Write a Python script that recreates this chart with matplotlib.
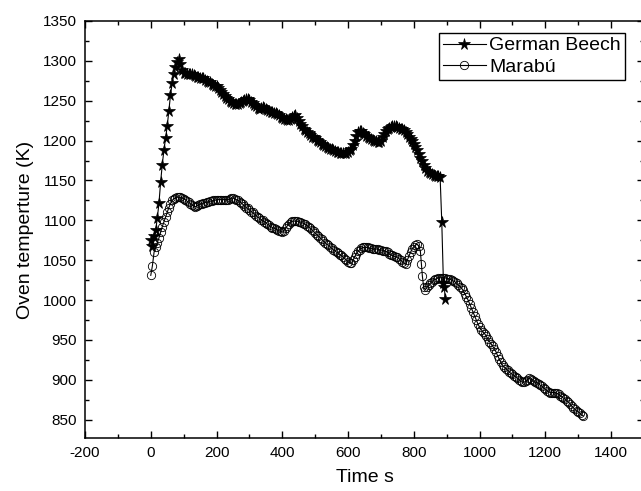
import matplotlib
matplotlib.use("Agg")
import matplotlib.pyplot as plt
from matplotlib.ticker import MultipleLocator

plt.rcParams['font.family'] = ['Liberation Sans', 'DejaVu Sans']
plt.rcParams['axes.unicode_minus'] = False

# German Beech: time (s), oven temperature (K)
beech_t = [0, 5, 10, 15, 20, 25, 30, 35, 40, 45, 50, 55, 60, 65, 70, 75, 80, 85, 90, 95,
           100, 105, 110, 115, 120, 125, 130, 135, 140, 145, 150, 155, 160, 165, 170, 175,
           180, 185, 190, 195, 200, 205, 210, 215, 220, 225, 230, 235, 240, 245, 250, 255,
           260, 265, 270, 275, 280, 285, 290, 295, 300, 305, 310, 315, 320, 325, 330, 335,
           340, 345, 350, 355, 360, 365, 370, 375, 380, 385, 390, 395, 400, 405, 410, 415,
           420, 425, 430, 435, 440, 445, 450, 455, 460, 465, 470, 475, 480, 485, 490, 495,
           500, 505, 510, 515, 520, 525, 530, 535, 540, 545, 550, 555, 560, 565, 570, 575,
           580, 585, 590, 595, 600, 605, 610, 615, 620, 625, 630, 635, 640, 645, 650, 655,
           660, 665, 670, 675, 680, 685, 690, 695, 700, 705, 710, 715, 720, 725, 730, 735,
           740, 745, 750, 755, 760, 765, 770, 775, 780, 785, 790, 795, 800, 805, 810, 815,
           820, 825, 830, 835, 840, 845, 850, 855, 860, 865, 870, 875, 880,
           885, 890, 893, 895]
beech_T = [1075, 1068, 1080, 1088, 1103, 1122, 1148, 1170, 1188, 1203, 1218, 1237, 1257, 1272,
           1283, 1292, 1298, 1302, 1296, 1288,
           1285, 1285, 1284, 1284, 1284, 1283, 1282, 1281, 1280, 1280, 1279, 1279, 1278, 1276,
           1275, 1274, 1273, 1271, 1270, 1269, 1268, 1266, 1264, 1261, 1258, 1256, 1254, 1252,
           1250, 1248, 1247, 1246, 1246, 1246, 1247, 1248, 1250, 1251, 1252, 1252, 1251, 1249,
           1247, 1245, 1243, 1241, 1240, 1241, 1242, 1241, 1240, 1238, 1237, 1236, 1236, 1235,
           1235, 1233, 1232, 1230, 1228, 1227, 1227, 1226, 1226, 1227, 1229, 1231, 1232, 1228,
           1224, 1221, 1218, 1215, 1213, 1211, 1209, 1207, 1205, 1204, 1203, 1201, 1200, 1198,
           1196, 1194, 1193, 1192, 1191, 1190, 1189, 1188, 1187, 1186, 1186, 1185, 1184, 1184,
           1184, 1185, 1186, 1188, 1190, 1195, 1200, 1206, 1211, 1212, 1212, 1210, 1208, 1206,
           1205, 1203, 1202, 1201, 1200, 1199, 1198, 1198, 1200, 1204, 1208, 1212, 1215, 1216,
           1217, 1218, 1218, 1218, 1217, 1216, 1215, 1214, 1213, 1211, 1208, 1205, 1202, 1199,
           1196, 1192, 1188, 1183, 1178, 1174, 1170, 1166, 1162, 1160, 1159, 1158, 1157, 1156,
           1156, 1155, 1154,
           1098, 1022, 1017, 1001]

# Marabú: time (s), oven temperature (K)
marabu_t = [0, 5, 10, 15, 20, 25, 30, 35, 40, 45, 50, 55, 60, 65, 70, 75,
            80, 85, 90, 95, 100, 105, 110, 115, 120, 125, 130, 135, 140, 145, 150, 155,
            160, 165, 170, 175, 180, 185, 190, 195, 200, 205, 210, 215, 220, 225, 230, 235,
            240, 245, 250, 255, 260, 265, 270, 275, 280, 285, 290, 295, 300, 305, 310, 315,
            320, 325, 330, 335, 340, 345, 350, 355, 360, 365, 370, 375, 380, 385, 390, 395,
            400, 405, 410, 415, 420, 425, 430, 435, 440, 445, 450, 455, 460, 465, 470, 475,
            480, 485, 490, 495, 500, 505, 510, 515, 520, 525, 530, 535, 540, 545, 550, 555,
            560, 565, 570, 575, 580, 585, 590, 595, 600, 605, 610, 615, 620, 625, 630, 635,
            640, 645, 650, 655, 660, 665, 670, 675, 680, 685, 690, 695, 700, 705, 710, 715,
            720, 725, 730, 735, 740, 745, 750, 755, 760, 765, 770, 775, 780, 785, 790, 795,
            800, 805, 810, 815, 820, 823, 826, 830, 835, 840, 845, 850, 855, 860, 865, 870,
            875, 880, 885, 890, 895, 900, 905, 910, 915, 920, 925, 930, 935, 940, 945, 950,
            955, 960, 965, 970, 975, 980, 985, 990, 995, 1000, 1005, 1010, 1015, 1020, 1025,
            1030, 1035, 1040, 1045, 1050, 1055, 1060, 1065, 1070, 1075, 1080, 1085, 1090,
            1095, 1100, 1105, 1110, 1115, 1120, 1125, 1130, 1135, 1140, 1145, 1150, 1155,
            1160, 1165, 1170, 1175, 1180, 1185, 1190, 1195, 1200, 1205, 1210, 1215, 1220,
            1225, 1230, 1235, 1240, 1245, 1250, 1255, 1260, 1265, 1270, 1275, 1280, 1285,
            1290, 1295, 1300, 1305, 1310, 1315]
marabu_T = [1031, 1043, 1060, 1066, 1072, 1078, 1085, 1092, 1098, 1104, 1110, 1116, 1121, 1125,
            1127, 1128,
            1129, 1129, 1129, 1128, 1127, 1126, 1124, 1123, 1121, 1119, 1118, 1117, 1118, 1119,
            1120, 1121, 1122, 1122, 1123, 1123, 1124, 1124, 1125, 1125, 1126, 1126, 1126, 1126,
            1126, 1126, 1126, 1126, 1127, 1128, 1128, 1127, 1126, 1125, 1123, 1122, 1120, 1118,
            1116, 1115, 1113, 1111, 1110, 1108, 1106, 1104, 1103, 1101, 1100, 1098, 1097, 1095,
            1094, 1092, 1091, 1090, 1089, 1088, 1087, 1086, 1085, 1087, 1090, 1093, 1096, 1098,
            1099, 1099, 1099, 1099, 1098, 1098, 1097, 1096, 1095, 1093, 1092, 1090, 1088, 1086,
            1084, 1082, 1080, 1078, 1076, 1074, 1072, 1070, 1069, 1067, 1065, 1063, 1062, 1060,
            1059, 1057, 1056, 1054, 1052, 1050, 1048, 1047, 1046, 1050, 1054, 1058, 1061, 1063,
            1065, 1066, 1066, 1066, 1066, 1065, 1065, 1064, 1064, 1064, 1064, 1063, 1063, 1062,
            1062, 1061, 1060, 1058, 1057, 1056, 1055, 1054, 1054, 1052, 1050, 1048, 1046, 1045,
            1050, 1055, 1060, 1064, 1067, 1069, 1070, 1068, 1061, 1045, 1030, 1016, 1013, 1016,
            1019, 1021, 1023, 1025, 1026, 1027, 1028, 1028, 1028, 1028, 1028, 1027, 1027, 1026,
            1025, 1024, 1023, 1021, 1019, 1017, 1015, 1012, 1008, 1004, 1000, 995, 990, 985,
            980, 975, 970, 966, 963, 960, 958, 955, 951, 948, 945, 942, 939, 935, 930, 926,
            922, 918, 916, 914, 912, 910, 908, 907, 905, 904, 902, 900, 898, 897, 897, 898,
            900, 902, 901, 900, 898, 897, 896, 895, 893, 892, 890, 888, 886, 885, 884, 884,
            884, 884, 883, 882, 880, 879, 877, 876, 874, 872, 870, 867, 865, 863, 861, 860,
            858, 856, 855]

x_ticks = [-200, 0, 200, 400, 600, 800, 1000, 1200, 1400]
y_ticks = [850, 900, 950, 1000, 1050, 1100, 1150, 1200, 1250, 1300, 1350]

fig = plt.figure(figsize=(6.41, 4.91), dpi=100)
ax = fig.add_axes([85 / 641, 53 / 491, (644 - 85) / 641, (438 - 21) / 491])

ax.plot(beech_t, beech_T, color='black', lw=0.8, marker='*', markersize=8.5,
        markerfacecolor='black', markeredgecolor='black', markeredgewidth=0.5,
        label='German Beech')
ax.plot(marabu_t, marabu_T, color='black', lw=0.8, marker='o', markersize=6,
        markerfacecolor='none', markeredgecolor='black', markeredgewidth=0.6,
        label='Marabú')

ax.set_xlim(-200, 1500)
ax.set_ylim(827, 1350)
ax.set_xticks(x_ticks)
ax.set_yticks(y_ticks)
ax.xaxis.set_minor_locator(MultipleLocator(100))
ax.yaxis.set_minor_locator(MultipleLocator(25))
ax.tick_params(which='both', direction='in', top=True, right=True, width=1, labelsize=11)
ax.tick_params(which='major', length=5, pad=6)
ax.tick_params(which='minor', length=3)
for s in ax.spines.values():
    s.set_linewidth(1.1)

ax.set_xlabel('Time s', fontsize=14, labelpad=6)
ax.set_ylabel('Oven temperture (K)', fontsize=14, labelpad=6)

leg = ax.legend(loc='upper right', bbox_to_anchor=(625 / 641, 1 - 33 / 491),
                bbox_transform=fig.transFigure, fontsize=14, frameon=True, fancybox=False,
                edgecolor='black', framealpha=1, borderaxespad=0, borderpad=0.2,
                labelspacing=0.2, handlelength=2.2, handletextpad=0.2)
leg.get_frame().set_linewidth(1.0)

fig.savefig('out.png', dpi=100)
